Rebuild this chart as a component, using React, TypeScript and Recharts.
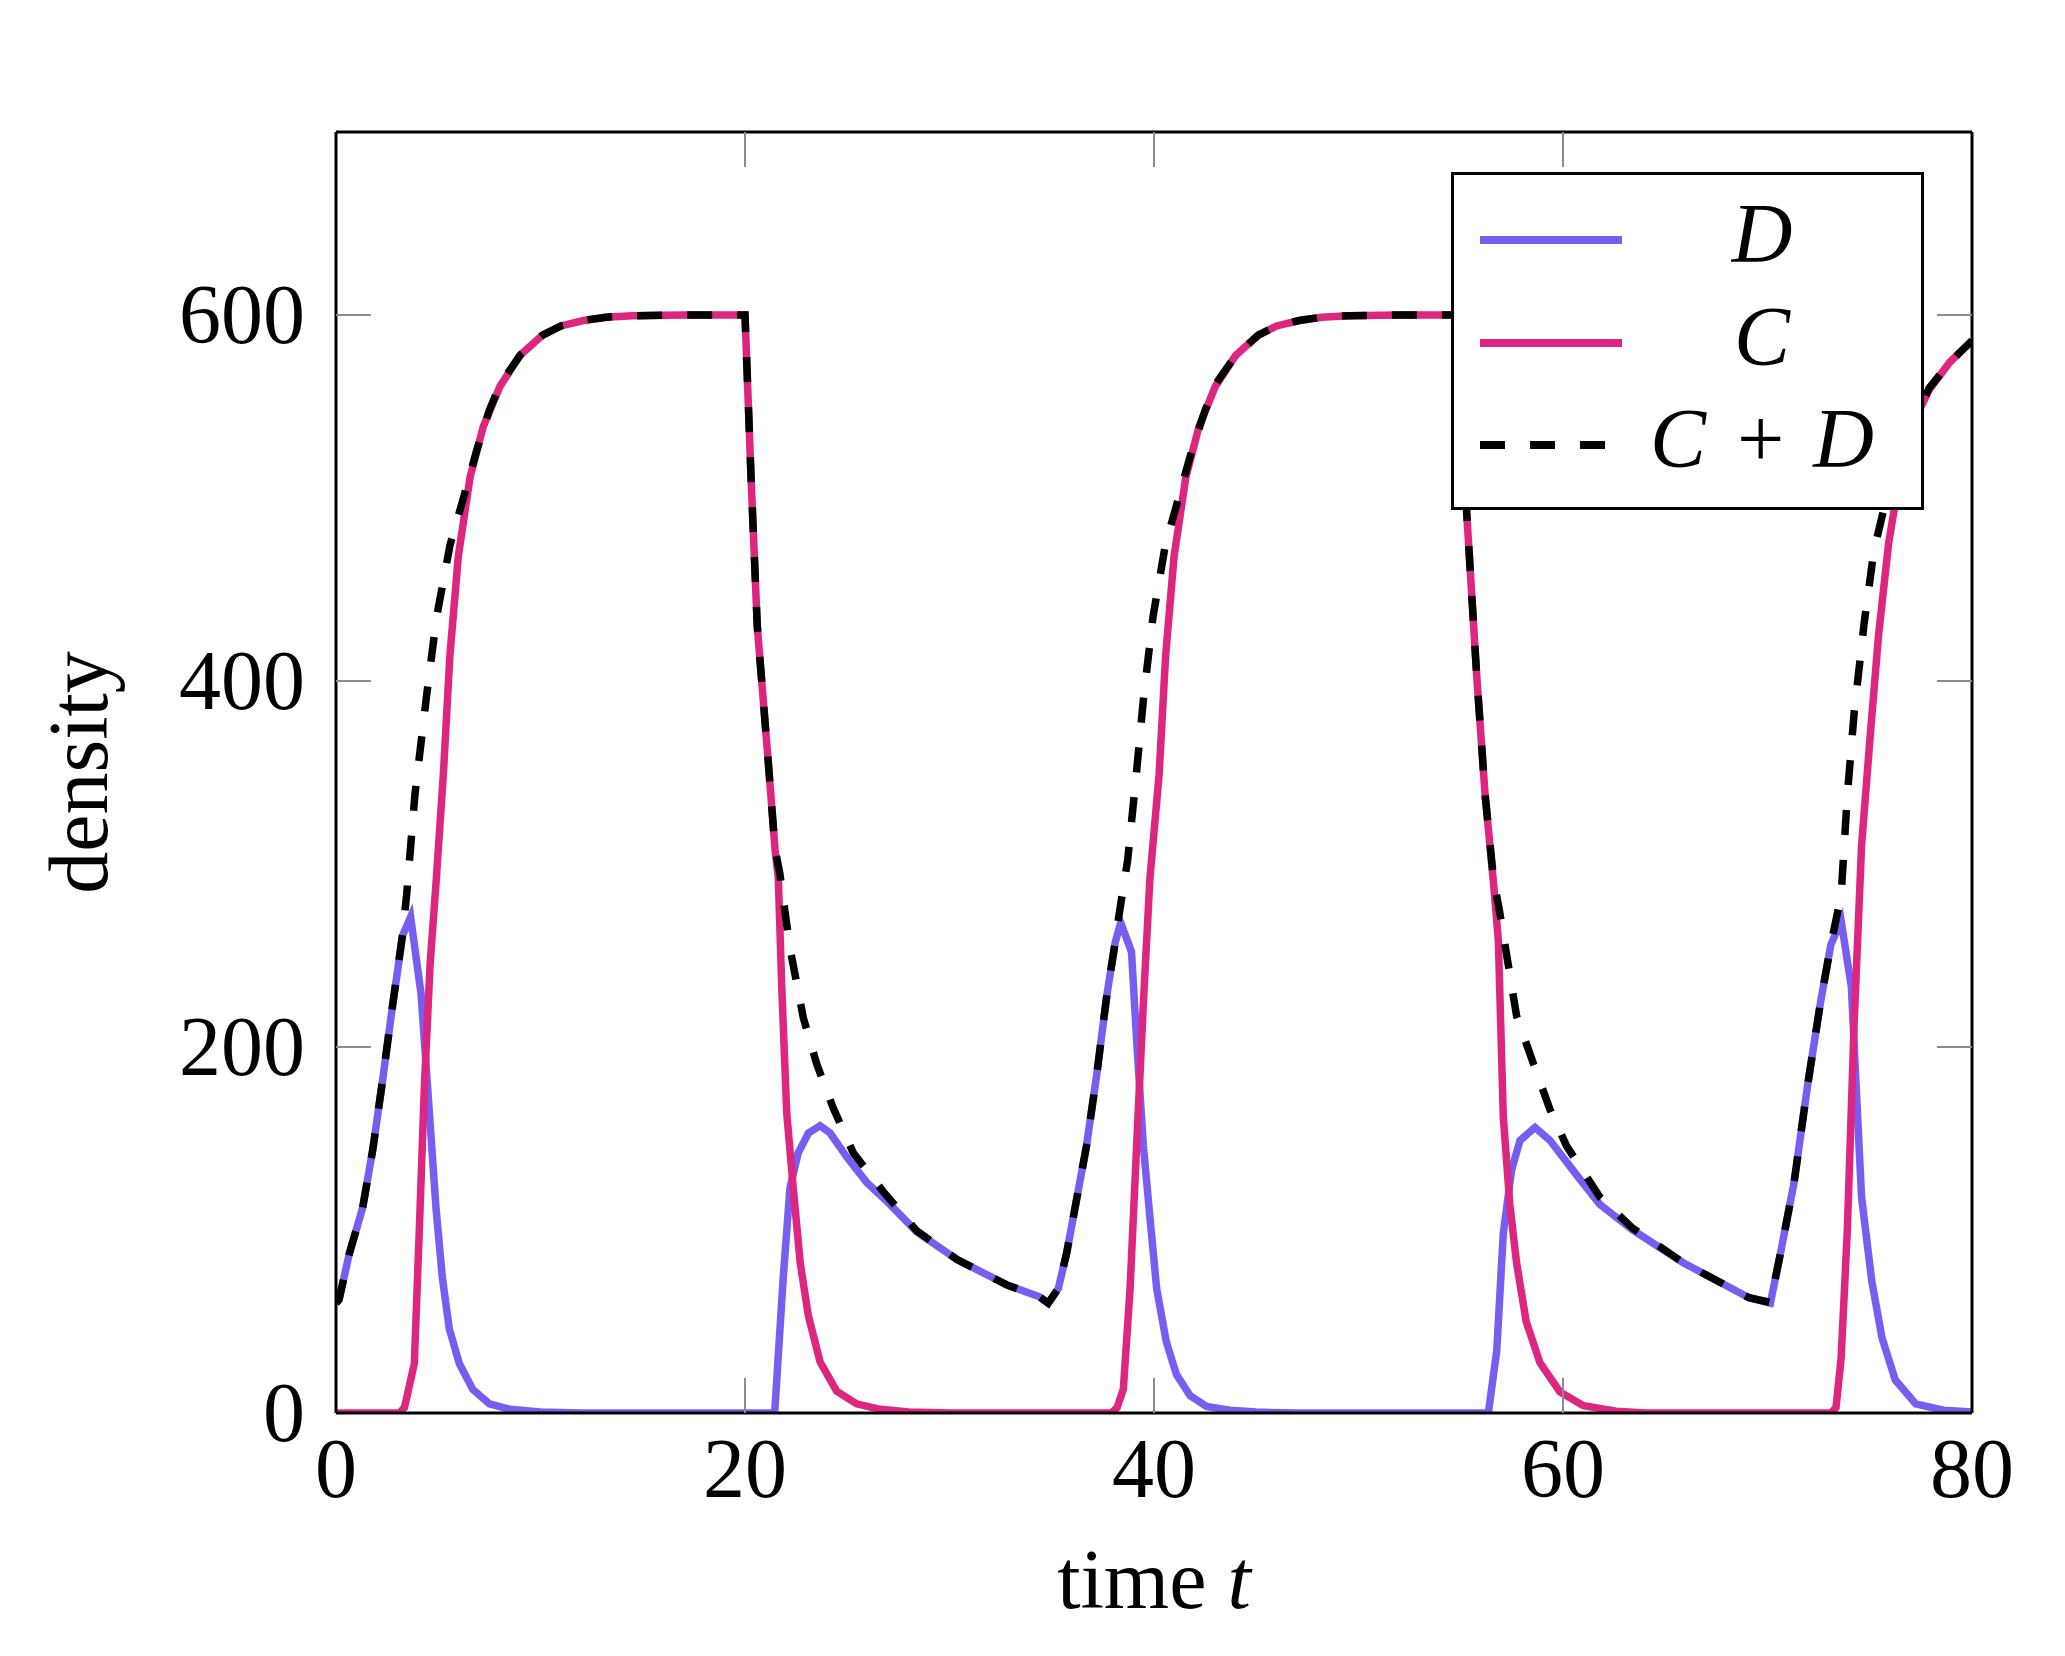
import React from "react";
import { LineChart, Line, XAxis, YAxis, Legend } from "recharts";

const FONT = "'Liberation Serif', 'DejaVu Serif', serif";
const TICK_GRAY = "#8c8c8c";

const xTicks = [0, 20, 40, 60, 80];
const yTicks = [0, 200, 400, 600];

// D
const dTime = [
  0, 0.15, 0.65, 1.3, 1.8, 2.28, 2.77, 3.26, 3.65, 4.16, 4.48, 4.89, 5.2, 5.54,
  6.03, 6.68, 7.5, 8.5, 10, 12, 21.45, 21.87, 22.2, 22.6, 23.1, 23.67, 24.16,
  24.97, 25.95, 27, 28.4, 30.35, 32.8, 34.4, 34.83, 35.32, 35.73, 36.22, 36.7,
  37.2, 37.69, 38.1, 38.37, 38.9, 39.15, 39.48, 39.8, 40.13, 40.6, 41.1, 41.76,
  42.57, 43.7, 45, 47, 56.35, 56.76, 57.08, 57.49, 57.9, 58.63, 59.36, 60.67,
  61.8, 63.4, 65.9, 69.1, 70.14, 70.63, 71.3, 71.96, 72.6, 73.1, 73.6, 74.1,
  74.35, 74.6, 75.1, 75.6, 76.25, 77.25, 78.6, 80,
];
const dValue = [
  60, 62, 87, 112, 144, 182, 223, 261, 271, 229, 178, 112, 74, 46,
  27, 13, 5, 2, 0.5, 0, 0, 74, 123, 142, 153, 157, 153,
  140, 126, 115, 99, 84, 70, 63.5, 60, 68, 87.5, 117, 146,
  185, 228, 257, 268, 252, 204, 146, 107, 68, 39, 21, 9.5,
  3.6, 1.5, 0.5, 0, 0, 34, 98, 133, 149, 156, 149, 130,
  114, 100, 82, 63, 60, 87, 126, 179, 225, 256, 269, 233,
  175, 118, 72, 41, 18, 5, 1.5, 0.5,
];

// C
const cTime = [
  0, 3.1, 3.35, 3.83, 4.08, 4.32, 4.6, 4.9, 5.25, 5.57, 5.98, 6.55, 7.2, 8.02,
  9, 10.1, 11, 12.1, 13.2, 14.5, 17, 20, 20.3, 20.6, 21.15, 21.47, 21.63, 21.8,
  22.04, 22.36, 22.7, 23.1, 23.67, 24.48, 25.46, 26.6, 28, 30, 37.93, 38.2,
  38.5, 38.83, 39.15, 39.48, 39.8, 40.25, 40.57, 40.98, 41.55, 42.2, 43, 44,
  45.1, 46, 47.1, 48.2, 49.5, 52, 55, 55.29, 55.78, 56.19, 56.6, 56.84, 57.08,
  57.4, 57.73, 58.2, 58.87, 59.85, 61, 62.6, 64, 73.1, 73.35, 73.6, 73.9,
  74.24, 74.6, 75, 75.43, 75.92, 76.42, 77.08, 77.9, 78.9, 80,
];
const cValue = [
  0, 0, 3, 27, 102, 178, 245, 291, 349, 414, 468, 511, 539, 561,
  578, 589, 594, 597, 598.8, 599.6, 600, 600, 510, 430, 354, 308, 292, 232,
  164, 123, 82, 53, 28, 12, 5, 2, 0.5, 0, 0, 3,
  13, 68, 146, 224, 292, 349, 414, 468, 511, 539, 561, 578,
  589, 594, 597, 598.8, 599.6, 600, 600, 492, 403, 338, 290, 258, 162,
  114, 82, 50, 27.5, 11.5, 4, 1, 0, 0, 3, 30, 99,
  214, 310, 367, 425, 475, 509, 540, 559, 574, 586,
];

// C + D
const sTime = [
  0, 0.15, 0.65, 1.3, 1.8, 2.28, 2.77, 3.26, 3.46, 3.86, 4.43, 4.92, 5.57, 6.23,
  6.88, 7.5, 8.02, 9, 10.1, 11, 12.1, 13.2, 14.5, 17, 20, 20.3, 20.6, 21.15,
  21.47, 21.7, 22.2, 22.85, 23.5, 24.3, 25.3, 26.76, 28.4, 30.35, 32.8, 34.4,
  34.83, 35.32, 35.73, 36.22, 36.7, 37.2, 37.69, 38.1, 38.26, 38.71, 39.1,
  39.5, 39.95, 40.55, 41.2, 41.85, 42.5, 43, 44, 45.1, 46, 47.1, 48.2, 49.5,
  52, 55, 55.29, 55.78, 56.19, 56.6, 56.9, 57.73, 58.55, 59.36, 60.17, 61.8,
  63.4, 65.9, 69.1, 70.14, 70.63, 71.3, 71.96, 72.6, 73.1, 73.6, 73.9, 74.24,
  74.73, 75.2, 75.92, 76.9, 77.9, 78.9, 80,
];
const sValue = [
  60, 62, 87, 112, 144, 182, 223, 262, 284, 338, 392, 435, 474, 500,
  526, 548, 562, 578, 589, 594, 597, 598.8, 599.6, 600, 600, 510, 430, 354,
  308, 295, 254, 216, 191, 167, 142, 121, 99.5, 84, 70, 63.5,
  60, 68, 87.5, 117, 146, 185, 228, 257, 270, 302, 345,
  392, 435, 474, 500, 526, 548, 562, 578, 589, 594, 597, 598.8, 599.6,
  600, 600, 492, 403, 338, 292, 274, 217, 191, 166, 146, 118,
  101, 82, 63, 60.4, 87, 126, 179, 225, 256, 283, 337, 383,
  432, 471, 505, 535, 560, 574, 586,
];

const pairs = (ts: number[], vs: number[]) => ts.map((t, i) => ({ t, v: vs[i] }));

const series = [
  { name: "D", data: pairs(dTime, dValue), color: "#785EF0", dash: undefined as string | undefined },
  { name: "C", data: pairs(cTime, cValue), color: "#DC267F", dash: undefined as string | undefined },
  { name: "C+D", data: pairs(sTime, sValue), color: "#000000", dash: "25 25" },
];

const isEnd = (v: number) => v === 0 || v === 80;

const BottomTick = ({ x, y, payload }: any) => (
  <g>
    {!isEnd(payload.value) && (
      <line x1={x} x2={x} y1={y} y2={y - 35} stroke={TICK_GRAY} strokeWidth={2} />
    )}
    <text x={x} y={y + 84} textAnchor="middle" fontFamily={FONT} fontSize={84} fill="#000">
      {payload.value}
    </text>
  </g>
);

const TopTick = ({ x, y, payload }: any) =>
  isEnd(payload.value) ? <g /> : (
    <line x1={x} x2={x} y1={y} y2={y + 35} stroke={TICK_GRAY} strokeWidth={2} />
  );

const LeftTick = ({ x, y, payload }: any) => (
  <g>
    {payload.value !== 0 && (
      <line x1={x} x2={x + 35} y1={y} y2={y} stroke={TICK_GRAY} strokeWidth={2} />
    )}
    <text x={x - 31} y={y + 28} textAnchor="end" fontFamily={FONT} fontSize={84} fill="#000">
      {payload.value}
    </text>
  </g>
);

const RightTick = ({ x, y, payload }: any) =>
  payload.value === 0 ? <g /> : (
    <line x1={x} x2={x - 35} y1={y} y2={y} stroke={TICK_GRAY} strokeWidth={2} />
  );

const XLabel = ({ viewBox }: any) => (
  <text
    x={viewBox.x + viewBox.width / 2}
    y={viewBox.y + 195}
    textAnchor="middle"
    fontFamily={FONT}
    fontSize={84}
    fill="#000"
  >
    {"time "}
    <tspan fontStyle="italic">t</tspan>
  </text>
);

const YLabel = ({ viewBox }: any) => {
  const x = viewBox.x - 228;
  const y = viewBox.y + viewBox.height / 2;
  return (
    <text
      x={x}
      y={y}
      transform={`rotate(-90 ${x} ${y})`}
      textAnchor="middle"
      fontFamily={FONT}
      fontSize={84}
      fill="#000"
    >
      density
    </text>
  );
};

const rowY = [68, 171, 273];

const LegendBox = () => (
  <svg width={473} height={338} style={{ display: "block" }}>
    <rect x={1.5} y={1.5} width={470} height={335} fill="#fff" stroke="#000" strokeWidth={3} />
    {series.map((s, i) => (
      <g key={s.name}>
        <line
          x1={29}
          x2={171}
          y1={rowY[i]}
          y2={rowY[i]}
          stroke={s.color}
          strokeWidth={8}
          strokeDasharray={s.dash}
        />
        <text x={311} y={rowY[i] + 22} textAnchor="middle" fontFamily={FONT} fontSize={84} fill="#000">
          {s.name === "C+D" ? (
            <>
              <tspan fontStyle="italic">C</tspan>
              <tspan dx={10}>{" + "}</tspan>
              <tspan dx={8} fontStyle="italic">D</tspan>
            </>
          ) : (
            <tspan fontStyle="italic">{s.name}</tspan>
          )}
        </text>
      </g>
    ))}
  </svg>
);

const frame = { stroke: "#000", strokeWidth: 3 };

export default function App() {
  return (
    <div style={{ width: 2049, height: 1640, background: "#fff" }}>
      <LineChart width={2049} height={1640} margin={{ top: 123, right: 84, bottom: 234, left: 327 }}>
        <XAxis
          xAxisId="b"
          type="number"
          dataKey="t"
          domain={[0, 80]}
          ticks={xTicks}
          interval={0}
          allowDataOverflow
          height={1}
          tickSize={0}
          tickMargin={0}
          tickLine={false}
          axisLine={frame}
          tick={BottomTick}
          label={XLabel}
        />
        <XAxis
          xAxisId="top"
          orientation="top"
          type="number"
          dataKey="t"
          domain={[0, 80]}
          ticks={xTicks}
          interval={0}
          allowDataOverflow
          height={1}
          tickSize={0}
          tickMargin={0}
          tickLine={false}
          axisLine={frame}
          tick={TopTick}
        />
        <YAxis
          yAxisId="l"
          type="number"
          domain={[0, 700]}
          ticks={yTicks}
          interval={0}
          allowDataOverflow
          width={1}
          tickSize={0}
          tickMargin={0}
          tickLine={false}
          axisLine={frame}
          tick={LeftTick}
          label={YLabel}
        />
        <YAxis
          yAxisId="r"
          orientation="right"
          type="number"
          domain={[0, 700]}
          ticks={yTicks}
          interval={0}
          allowDataOverflow
          width={1}
          tickSize={0}
          tickMargin={0}
          tickLine={false}
          axisLine={frame}
          tick={RightTick}
        />
        {series.map((s) => (
          <Line
            key={s.name}
            xAxisId="b"
            yAxisId="l"
            data={s.data}
            dataKey="v"
            name={s.name}
            type="linear"
            stroke={s.color}
            strokeWidth={7.5}
            strokeDasharray={s.dash}
            dot={false}
            activeDot={false}
            isAnimationActive={false}
          />
        ))}
        <Legend
          layout="vertical"
          align="center"
          verticalAlign="middle"
          wrapperStyle={{ position: "absolute", left: 1443, top: 164, width: 473, height: 338 }}
          content={() => <LegendBox />}
        />
      </LineChart>
    </div>
  );
}
